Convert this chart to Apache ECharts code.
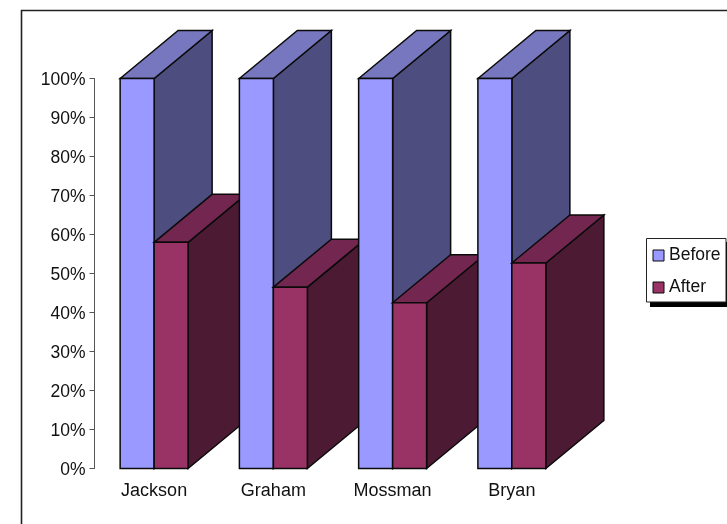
<!DOCTYPE html>
<html>
<head>
<meta charset="utf-8">
<style>
  html, body { margin: 0; padding: 0; background: #fff; }
  #chart { width: 727px; height: 524px; }
</style>
<script src="https://cdn.jsdelivr.net/npm/echarts@6/dist/echarts.min.js"></script>
</head>
<body>
<div id="chart"></div>
<script>
// Share of each person's total, before and after.
const categories = ['Jackson', 'Graham', 'Mossman', 'Bryan'];
const beforeValues = [100, 100, 100, 100];
const afterValues = [58, 46.5, 42.5, 52.7];

const FONT = '"Liberation Sans", Arial, sans-serif';
const TEXT = '#111';
const EDGE = '#0a0a0a';

// Extrusion of the boxes and the width of each box within its category band.
const DEPTH_X = 58;
const DEPTH_Y = 48;
const BAR_RATIO = 0.285;

const beforeFaces = { front: '#9999ff', top: '#7777bf', side: '#4d4d80' };
const afterFaces = { front: '#993366', top: '#732650', side: '#4d1a33' };

// Draws one extruded box; seriesOffset places it left or right of the band centre.
function boxRenderer(faces, seriesOffset, seriesIndex) {
  return function (params, api) {
    const cat = api.value(0);
    const base = api.coord([cat, 0]);
    const tip = api.coord([cat, api.value(1)]);
    const w = api.size([1, 0])[0] * BAR_RATIO;
    const x0 = base[0] + seriesOffset * w;
    const x1 = x0 + w;
    const y0 = tip[1];
    const y1 = base[1];
    const z2 = cat * 10 + seriesIndex;
    const line = { stroke: EDGE, lineWidth: 1.5, lineJoin: 'miter' };
    const face = (points, fill, order) => ({
      type: 'polygon',
      z2: z2 + order,
      shape: { points },
      style: Object.assign({ fill }, line)
    });
    return {
      type: 'group',
      children: [
        face([[x1, y0], [x1 + DEPTH_X, y0 - DEPTH_Y], [x1 + DEPTH_X, y1 - DEPTH_Y], [x1, y1]], faces.side, 0),
        face([[x0, y0], [x0 + DEPTH_X, y0 - DEPTH_Y], [x1 + DEPTH_X, y0 - DEPTH_Y], [x1, y0]], faces.top, 1),
        face([[x0, y0], [x1, y0], [x1, y1], [x0, y1]], faces.front, 2)
      ]
    };
  };
}

function boxSeries(name, values, faces, seriesOffset, seriesIndex) {
  return {
    name,
    type: 'custom',
    renderItem: boxRenderer(faces, seriesOffset, seriesIndex),
    data: values.map((v, i) => [i, v]),
    encode: { x: 0, y: 1 },
    itemStyle: { color: faces.front },
    clip: false
  };
}

const chart = echarts.init(document.getElementById('chart'), null, { renderer: 'canvas' });
chart.setOption({
  animation: false,
  backgroundColor: '#fff',
  grid: { left: 94.5, right: 155.5, top: 78.5, bottom: 55.5 },
  xAxis: {
    type: 'category',
    data: categories,
    axisLine: { show: false },
    axisTick: { show: false },
    axisLabel: { color: TEXT, fontFamily: FONT, fontSize: 18, margin: 14 }
  },
  yAxis: {
    type: 'value',
    min: 0,
    max: 100,
    interval: 10,
    axisLine: { show: true, lineStyle: { color: '#555', width: 1 } },
    axisTick: { show: true, length: 5, lineStyle: { color: '#555', width: 1 } },
    axisLabel: {
      color: TEXT,
      margin: 9,
      formatter: '{tick|{value}%}',
      rich: { tick: { color: TEXT, fontFamily: FONT, fontSize: 17.5, padding: [3, 0, 0, 0] } }
    },
    splitLine: { show: false }
  },
  legend: {
    left: 646.5,
    top: 238.5,
    orient: 'vertical',
    selectedMode: false,
    icon: 'rect',
    itemWidth: 11,
    itemHeight: 11,
    itemGap: 14,
    padding: [8, 5, 6, 6],
    itemStyle: { borderColor: EDGE, borderWidth: 1 },
    textStyle: { color: TEXT, fontFamily: FONT, fontSize: 17.5 },
    data: ['Before', 'After']
  },
  graphic: [
    // Chart frame, open on the right and at the bottom
    {
      type: 'polyline',
      silent: true,
      shape: { points: [[21.5, 524], [21.5, 10.5], [727, 10.5]] },
      style: { fill: 'none', stroke: '#222', lineWidth: 1.6 }
    },
    // Legend panel and its hard drop shadow
    {
      type: 'rect',
      silent: true,
      z: 1,
      shape: { x: 650, y: 242, width: 77, height: 65 },
      style: { fill: '#000' }
    },
    {
      type: 'rect',
      silent: true,
      z: 2,
      shape: { x: 646.5, y: 238.5, width: 79.5, height: 63.5 },
      style: { fill: '#fff', stroke: '#222', lineWidth: 1 }
    }
  ],
  series: [
    boxSeries('Before', beforeValues, beforeFaces, -1, 0),
    boxSeries('After', afterValues, afterFaces, 0, 5)
  ]
});
</script>
</body>
</html>
